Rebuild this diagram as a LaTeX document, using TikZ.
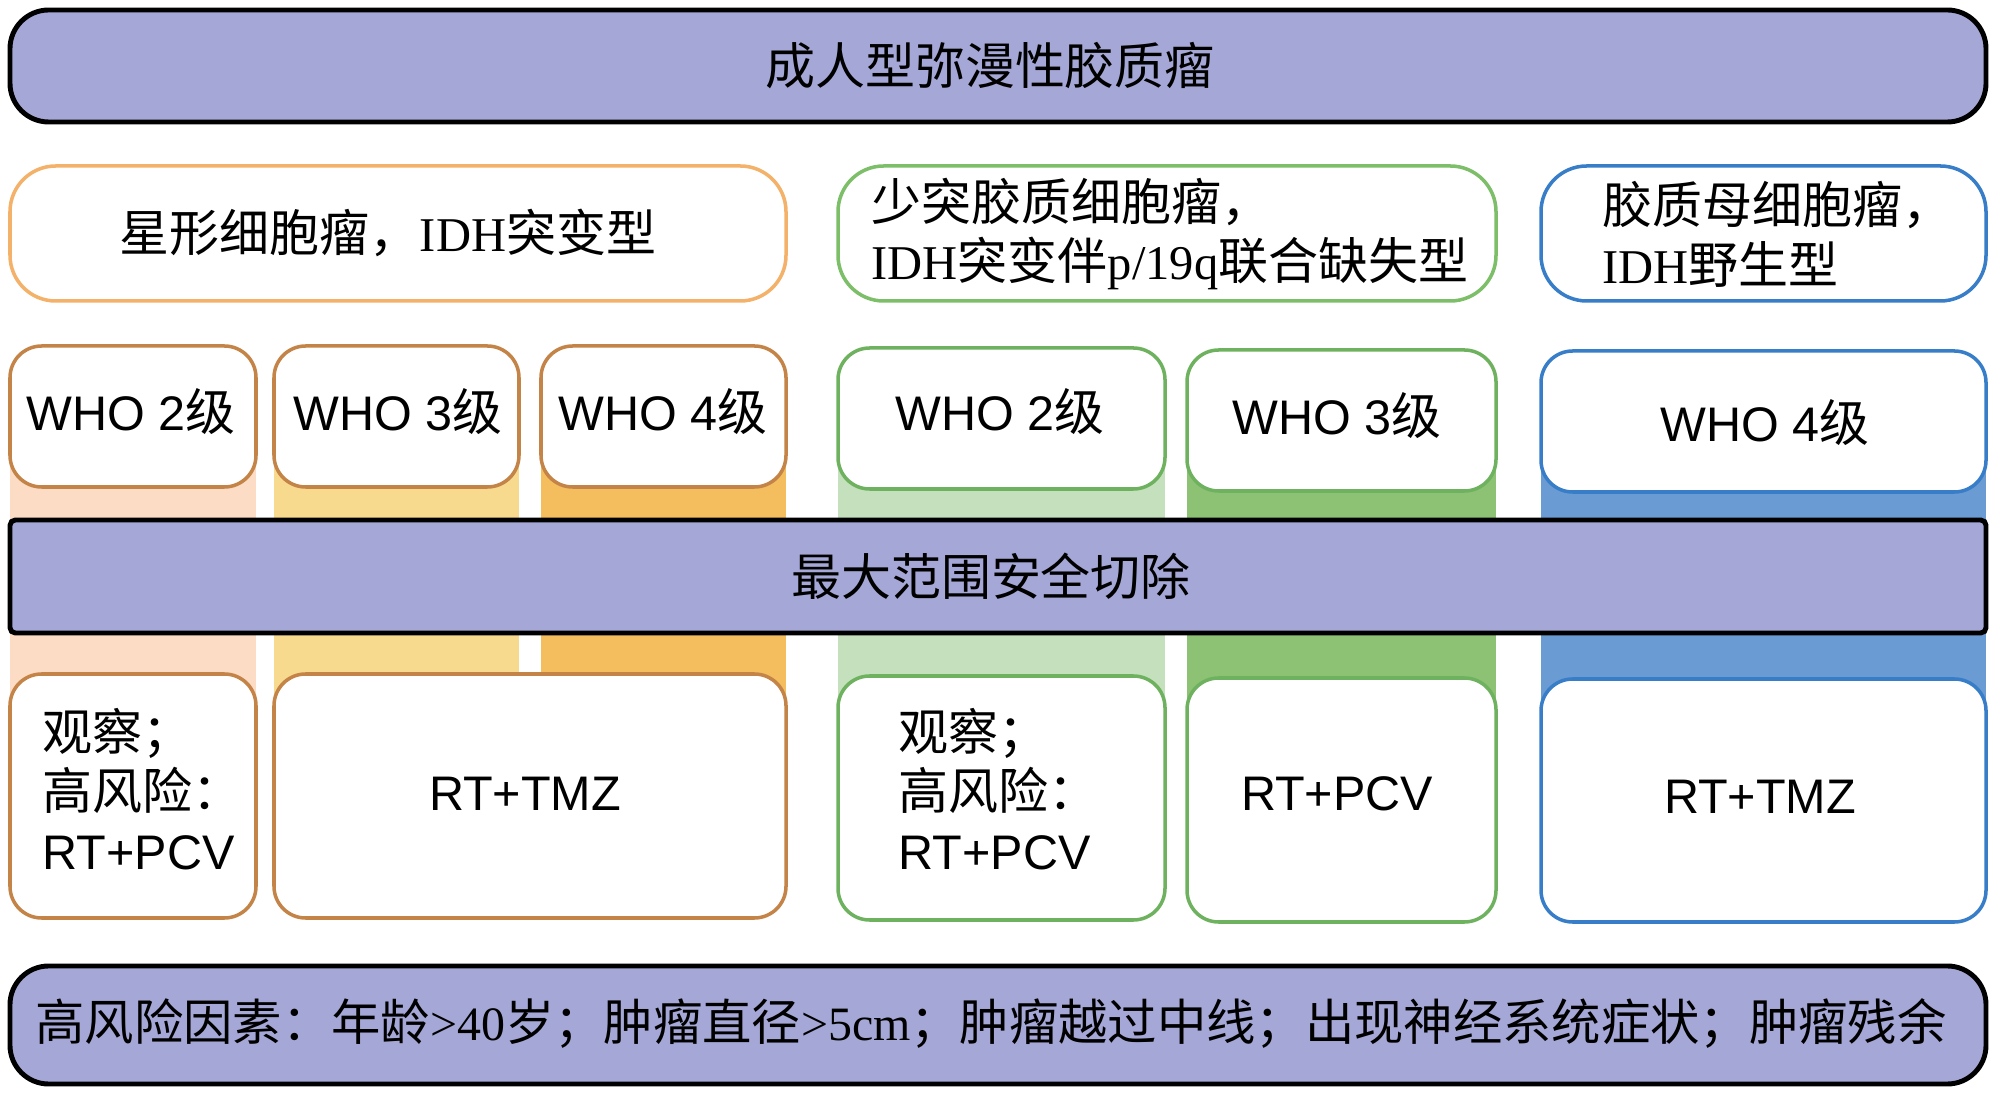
\documentclass[tikz,border=0pt]{standalone}
\usepackage{fontspec}
\setmainfont{Liberation Serif}
\setsansfont{Liberation Sans}
\newfontfamily\cjk[Scale=1.03]{Noto Sans CJK SC}
\newcommand{\zh}[1]{{\cjk #1}}
\usetikzlibrary{fit}
\definecolor{bannerfill}{RGB}{165,168,214}
\definecolor{ohead}{RGB}{244,177,106}
\definecolor{obord}{RGB}{196,132,72}
\definecolor{ghead}{RGB}{125,190,105}
\definecolor{gbord}{RGB}{110,178,95}
\definecolor{bbord}{RGB}{55,125,200}
\definecolor{stPeach}{RGB}{252,220,196}
\definecolor{stYellow}{RGB}{248,218,142}
\definecolor{stOrange}{RGB}{244,190,94}
\definecolor{stLGreen}{RGB}{196,224,188}
\definecolor{stGreen}{RGB}{141,194,117}
\definecolor{stBlue}{RGB}{107,155,211}
\tikzset{
  txt/.style={font=\fontsize{13.8}{17}\selectfont, text=black, inner sep=0pt},
  banner/.style={draw=black, line width=1.4pt, fill=bannerfill, rounded corners=11pt, inner sep=0pt},
  midbanner/.style={draw=black, line width=1.4pt, fill=bannerfill, rounded corners=1.5pt, inner sep=0pt},
  headbox/.style={draw=#1, line width=1pt, fill=white, rounded corners=13pt, inner sep=0pt},
  gradebox/.style={draw=#1, line width=1pt, fill=white, rounded corners=9pt, inner sep=0pt},
  plain/.style={txt, align=left},
}
\begin{document}
\begin{tikzpicture}[x=0.01cm, y=-0.01cm]
\useasboundingbox (0,0) rectangle (2000,1095);
% colour stripes behind the columns
\fill[stPeach]  (10,440)   rectangle (256,700);
\fill[stYellow] (274,440)  rectangle (519,700);
\fill[stOrange] (541,440)  rectangle (786,700);
\fill[stLGreen] (838,440)  rectangle (1165,700);
\fill[stGreen]  (1187,440) rectangle (1496,700);
\fill[stBlue]   (1541,440) rectangle (1986,700);
% top banner
\node[banner, fit={(10,10)(1986,122)}] (top) {};
\node[txt] (topt) at (990,66) {\zh{成人型弥漫性胶质瘤}};
% headers
\node[headbox=ohead, fit={(10,166)(786,301)}] (hA) {};
\node[txt] (hAt) at (388,233) {\zh{星形细胞瘤，}IDH\zh{突变型}};
\node[headbox=ghead, fit={(838,166)(1496,301)}] (hO) {};
\node[plain, anchor=west] (hOt) at (871,234) {\zh{少突胶质细胞瘤，}\\IDH\zh{突变伴}p/19q\zh{联合缺失型}};
\node[headbox=bbord, fit={(1541,166)(1986,301)}] (hG) {};
\node[plain, anchor=west] (hGt) at (1602,234) {\zh{胶质母细胞瘤，}\\IDH\zh{野生型}};
% WHO grades
\node[gradebox=obord, fit={(10,346)(256,487)}] (w1) {};
\node[txt] (w1t) at (131,412) {\sffamily WHO 2\zh{级}};
\node[gradebox=obord, fit={(274,346)(519,487)}] (w2) {};
\node[txt] (w2t) at (398,412) {\sffamily WHO 3\zh{级}};
\node[gradebox=obord, fit={(541,346)(786,487)}] (w3) {};
\node[txt] (w3t) at (663,412) {\sffamily WHO 4\zh{级}};
\node[gradebox=gbord, fit={(838,348)(1165,489)}] (w4) {};
\node[txt] (w4t) at (1000,412) {\sffamily WHO 2\zh{级}};
\node[gradebox=gbord, fit={(1187,350)(1496,491)}] (w5) {};
\node[txt] (w5t) at (1337,416) {\sffamily WHO 3\zh{级}};
\node[gradebox=bbord, fit={(1541,351)(1986,492)}] (w6) {};
\node[txt] (w6t) at (1765,423) {\sffamily WHO 4\zh{级}};
% middle banner
\node[midbanner, fit={(10,520)(1986,633)}] (mid) {};
\node[txt] (midt) at (991,576) {\zh{最大范围安全切除}};
% treatments
\node[gradebox=obord, fit={(10,674)(256,918)}] (t1) {};
\node[plain, anchor=west] (t1t) at (42,789) {\zh{观察；}\\\zh{高风险：}\\{\sffamily RT+PCV}};
\node[gradebox=obord, fit={(274,674)(786,918)}] (t2) {};
\node[txt] (t2t) at (525,794) {\sffamily RT+TMZ};
\node[gradebox=gbord, fit={(838,676)(1165,920)}] (t3) {};
\node[plain, anchor=west] (t3t) at (898,789) {\zh{观察；}\\\zh{高风险：}\\{\sffamily RT+PCV}};
\node[gradebox=gbord, fit={(1187,678)(1496,922)}] (t4) {};
\node[txt] (t4t) at (1337,794) {\sffamily RT+PCV};
\node[gradebox=bbord, fit={(1541,679)(1986,922)}] (t5) {};
\node[txt] (t5t) at (1760,797) {\sffamily RT+TMZ};
% bottom banner
\node[banner, fit={(10,966)(1986,1084)}] (bot) {};
\node[txt, font=\fontsize{13.62}{17}\selectfont] (bott) at (991,1024) {\zh{高风险因素：年龄}>40\zh{岁；肿瘤直径}>5cm\zh{；肿瘤越过中线；出现神经系统症状；肿瘤残余}};
\end{tikzpicture}
\end{document}
